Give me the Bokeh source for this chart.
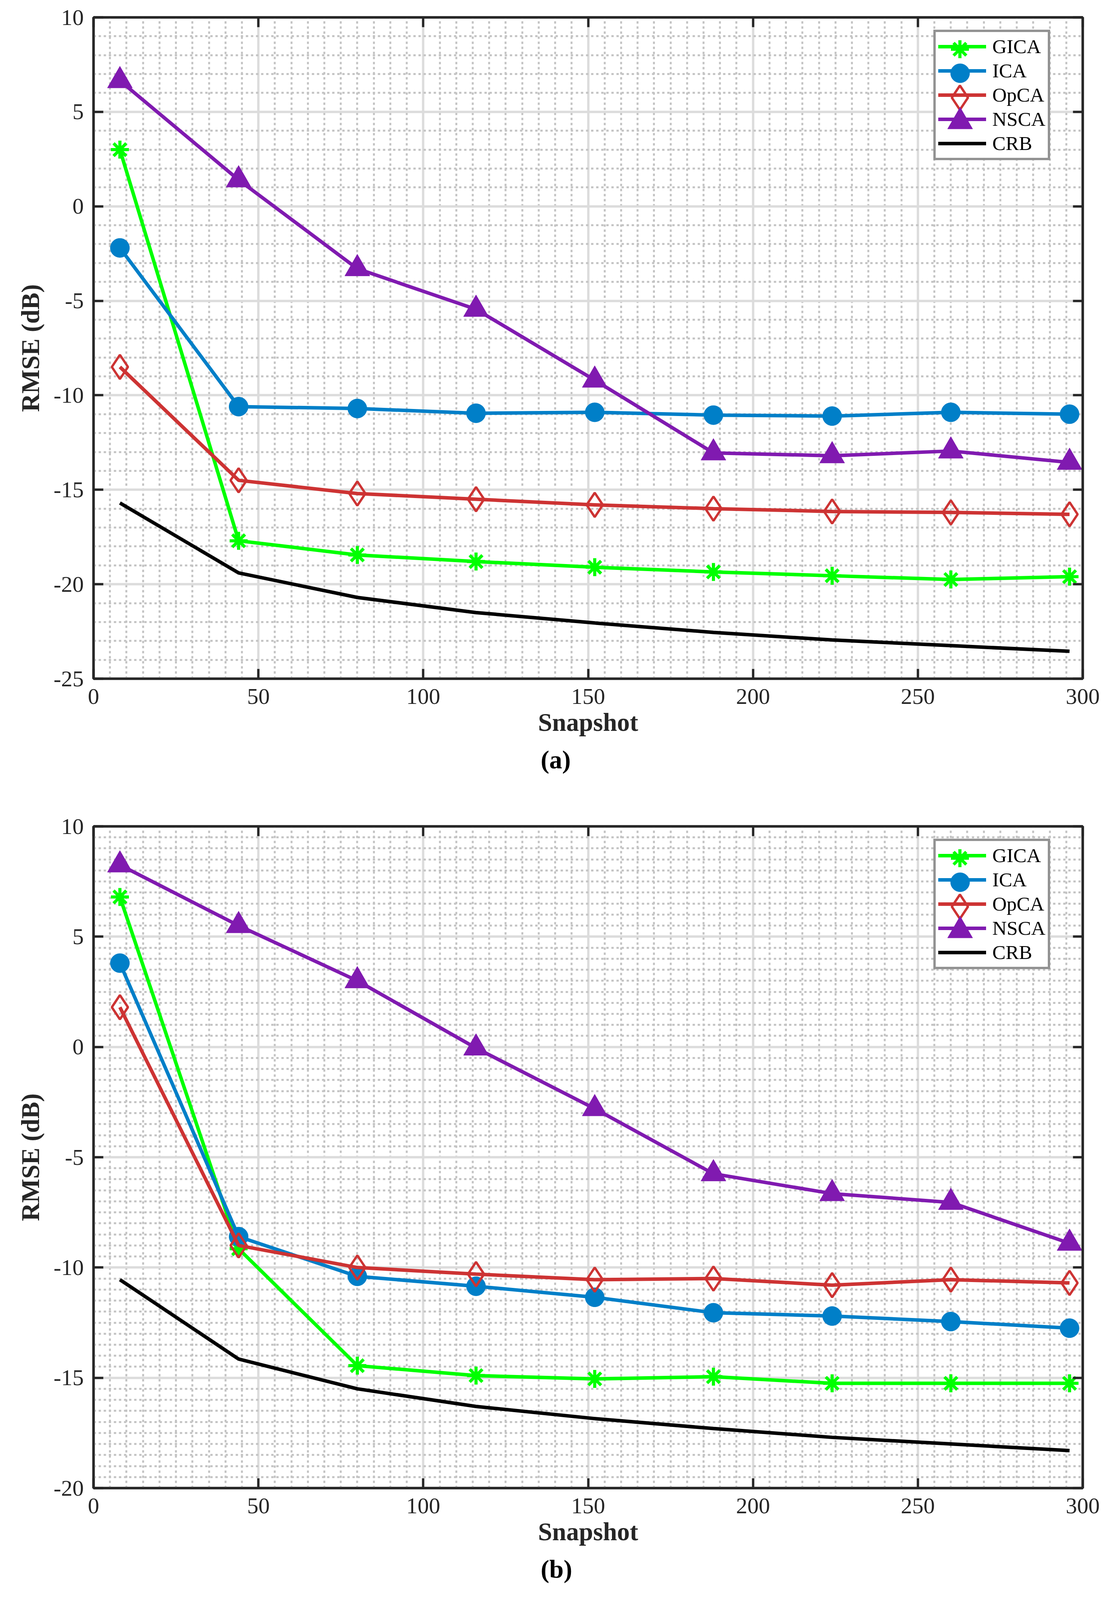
from bokeh.plotting import figure
from bokeh.models import (LinearAxis, SingleIntervalTicker, Legend, LegendItem, Title,
                          CustomJSTickFormatter, Range1d)
from bokeh.layouts import column
from bokeh.embed import file_html
from bokeh.resources import INLINE
from bokeh.core.properties import value

# ---------------- data ----------------
snapshots = [8, 44, 80, 116, 152, 188, 224, 260, 296]
series_names = ["GICA", "ICA", "OpCA", "NSCA", "CRB"]

gica_a = [3.0, -17.7, -18.45, -18.8, -19.1, -19.35, -19.55, -19.75, -19.6]
ica_a = [-2.2, -10.6, -10.7, -10.95, -10.9, -11.05, -11.1, -10.9, -11.0]
opca_a = [-8.5, -14.5, -15.2, -15.5, -15.8, -16.0, -16.15, -16.2, -16.3]
nsca_a = [6.65, 1.4, -3.3, -5.45, -9.2, -13.05, -13.2, -12.95, -13.55]
crb_a = [-15.7, -19.4, -20.7, -21.5, -22.05, -22.55, -22.95, -23.25, -23.55]

gica_b = [6.8, -9.15, -14.45, -14.9, -15.05, -14.95, -15.25, -15.25, -15.25]
ica_b = [3.8, -8.6, -10.4, -10.85, -11.35, -12.05, -12.2, -12.45, -12.75]
opca_b = [1.8, -9.0, -10.0, -10.3, -10.55, -10.5, -10.8, -10.55, -10.7]
nsca_b = [8.25, 5.5, 3.0, -0.05, -2.8, -5.75, -6.65, -7.05, -8.9]
crb_b = [-10.55, -14.15, -15.5, -16.3, -16.85, -17.3, -17.7, -18.0, -18.3]

x_ticks_step = 50
y_ticks_step = 5
captions = ["(a)", "(b)"]
x_label = "Snapshot"
y_label = "RMSE (dB)"

# ---------------- style ----------------
FONT = "Liberation Serif"
AX = "#262626"
COLORS = {"GICA": "#00ff00", "ICA": "#007fc8", "OpCA": "#cd3333",
          "NSCA": "#801ab0", "CRB": "#000000"}
MARKERS = {
    "GICA": dict(marker="asterisk", size=46, line_width=8, fill_color=None),
    "ICA": dict(marker="circle", size=49, line_width=1, fill_color="#007fc8"),
    "OpCA": dict(marker="diamond", size=62, line_width=6, fill_color=None),
    "NSCA": dict(marker="triangle", size=64, line_width=1, fill_color="#801ab0"),
}

FRAME_W = 2533
BORDER_L = 239
BORDER_R = 70
BORDER_T = 44

LEG_GW = 123
LEG_GH = 62
LEG_PAD = 6
LEG_N = 5
LEG_H = 2 * LEG_PAD + LEG_N * LEG_GH
LEG_VX = 2151
LEG_TOP = 44


def plain_formatter():
    return CustomJSTickFormatter(code="return tick.toString()")


def empty_formatter():
    return CustomJSTickFormatter(code="return ''")


def style_axis(ax, font_size="58px"):
    ax.axis_line_color = AX
    ax.axis_line_width = 6
    ax.major_tick_line_color = AX
    ax.major_tick_line_width = 6
    ax.major_tick_in = 25
    ax.major_tick_out = 0
    ax.minor_tick_in = 0
    ax.minor_tick_out = 0
    ax.minor_tick_line_color = None
    ax.major_label_text_font = FONT
    ax.major_label_text_font_size = font_size
    ax.major_label_text_color = AX
    ax.axis_label_text_font = FONT
    ax.axis_label_text_font_style = "bold"
    ax.axis_label_text_font_size = "65px"
    ax.axis_label_text_color = AX


def make_panel(data, y_lo, y_hi, y_minor, caption, frame_h, border_b):
    p = figure(frame_width=FRAME_W, frame_height=frame_h,
               x_range=Range1d(0, 300), y_range=Range1d(y_lo, y_hi),
               output_backend="svg", toolbar_location=None,
               min_border_left=BORDER_L, min_border_right=BORDER_R,
               min_border_top=BORDER_T, min_border_bottom=border_b)
    p.title.visible = False
    p.background_fill_color = "white"
    p.border_fill_color = "white"
    p.outline_line_color = AX
    p.outline_line_width = 6

    xt = SingleIntervalTicker(interval=x_ticks_step, num_minor_ticks=10)
    yt = SingleIntervalTicker(interval=y_ticks_step, num_minor_ticks=y_minor)
    p.xaxis[0].ticker = xt
    p.yaxis[0].ticker = yt
    p.xgrid[0].ticker = xt
    p.ygrid[0].ticker = yt

    xa = p.xaxis[0]
    ya = p.yaxis[0]
    xa.formatter = plain_formatter()
    ya.formatter = plain_formatter()
    style_axis(xa)
    style_axis(ya)
    xa.axis_label = x_label
    ya.axis_label = y_label
    xa.major_label_standoff = 26
    xa.axis_label_standoff = 8
    ya.major_label_standoff = 25
    ya.axis_label_standoff = 20

    top = LinearAxis(ticker=xt, formatter=empty_formatter())
    style_axis(top, "0px")
    top.major_label_standoff = 0
    p.add_layout(top, "above")
    right = LinearAxis(ticker=yt, formatter=empty_formatter())
    style_axis(right, "0px")
    right.major_label_standoff = 0
    p.add_layout(right, "right")

    for g in (p.xgrid[0], p.ygrid[0]):
        g.grid_line_color = "#dcdcdc"
        g.grid_line_width = 6
        g.minor_grid_line_color = "#c4c4c4"
        g.minor_grid_line_width = 5
        g.minor_grid_line_dash = "6 7"

    line_items = []
    marker_rs = []
    for name, ys in zip(series_names, data):
        c = COLORS[name]
        lr = p.line(snapshots, ys, line_color=c, line_width=9)
        line_items.append(LegendItem(label=name, renderers=[lr]))
        if name in MARKERS:
            m = MARKERS[name]
            sr = p.scatter(snapshots, ys, marker=m["marker"], size=m["size"],
                           line_color=c, line_width=m["line_width"],
                           fill_color=m["fill_color"])
            marker_rs.append((sr, m["size"]))

    vy1 = frame_h - LEG_TOP - LEG_H
    leg = Legend(items=line_items, location=(LEG_VX, vy1),
                 glyph_width=LEG_GW, glyph_height=LEG_GH, spacing=0,
                 padding=LEG_PAD, margin=0, label_standoff=16,
                 label_text_font=FONT, label_text_font_size="51px",
                 label_text_color="black", label_height=LEG_GH,
                 border_line_color=AX, border_line_width=6,
                 background_fill_color="white", background_fill_alpha=1.0)
    p.add_layout(leg)

    # legend sample markers drawn at the size of the plotted markers
    cx = LEG_VX + LEG_PAD + LEG_GW / 2
    for k, (sr, size) in enumerate(marker_rs):
        W = int(round(size / 0.4))
        cy_top = LEG_TOP + LEG_PAD + LEG_GH / 2 + LEG_GH * k
        vy = frame_h - (cy_top + W / 2)
        vx = cx - W / 2
        lm = Legend(items=[LegendItem(label=value(""), renderers=[sr])],
                    location=(vx, vy), glyph_width=W, glyph_height=W,
                    padding=0, spacing=0, margin=0, label_standoff=0,
                    label_width=0, label_height=0,
                    label_text_font_size="0px",
                    border_line_color=None, background_fill_alpha=0.0)
        p.add_layout(lm)

    cap = Title(text=caption, align="left", offset=1145, standoff=36,
                text_font=FONT, text_font_size="66px", text_font_style="bold",
                text_color="black")
    p.add_layout(cap, "below")
    return p


pa = make_panel([gica_a, ica_a, opca_a, nsca_a, crb_a], -25, 10, 5,
                captions[0], 1693, 334)
pb = make_panel([gica_b, ica_b, opca_b, nsca_b, crb_b], -20, 10, 10,
                captions[1], 1694, 268)

layout = column(pa, pb, spacing=0)
open("out.html", "w").write(file_html(layout, INLINE))
